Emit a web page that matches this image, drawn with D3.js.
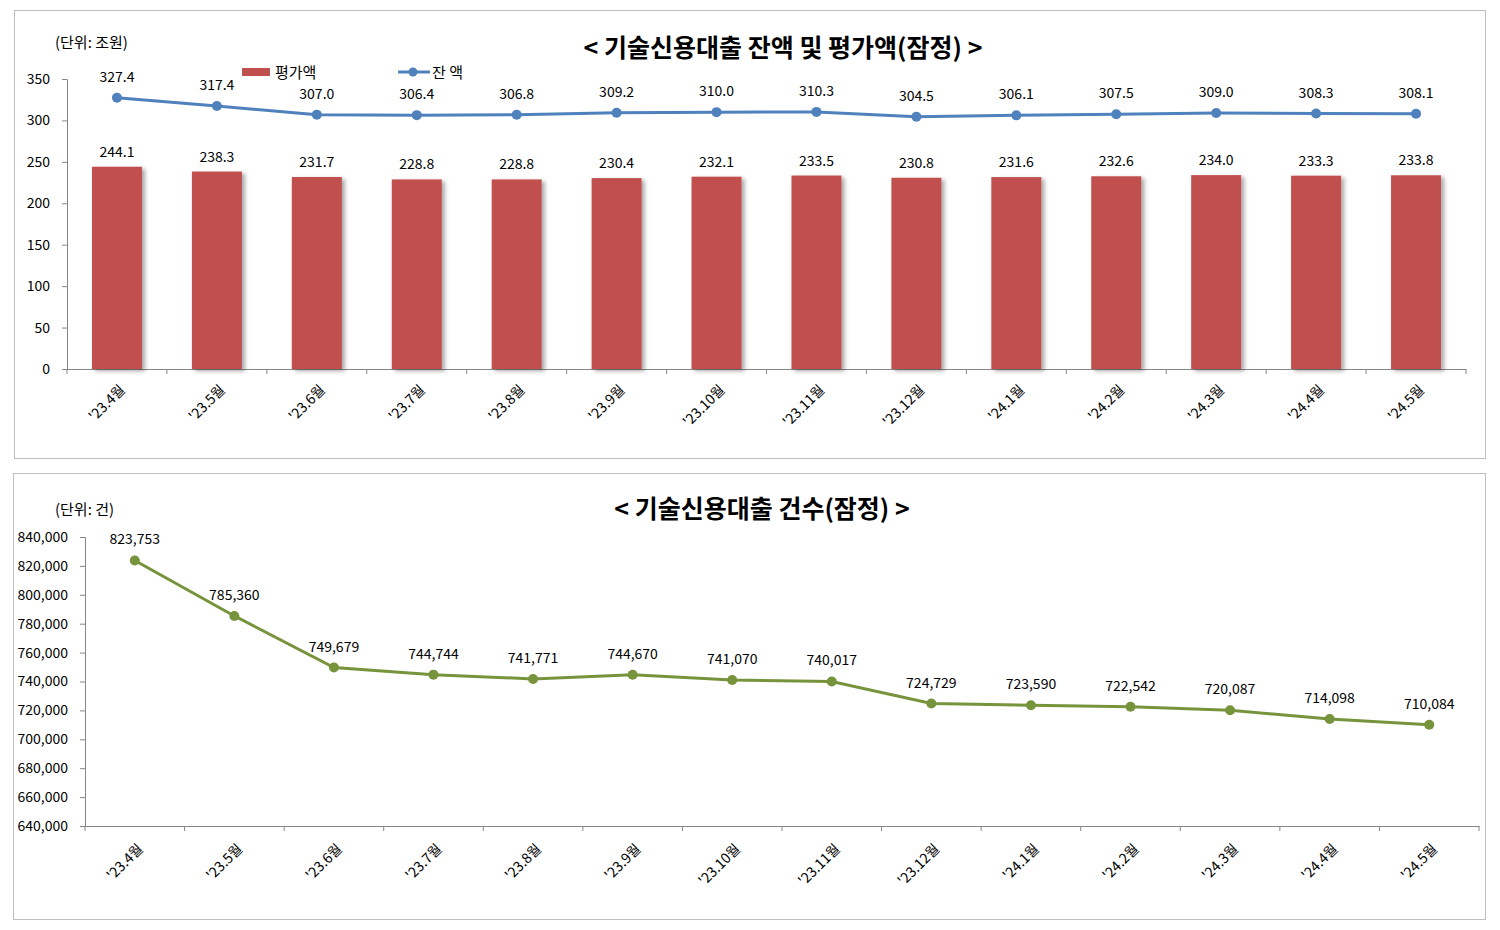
<!DOCTYPE html>
<html><head><meta charset="utf-8">
<script src="https://cdn.jsdelivr.net/npm/d3@7"></script>
<style>
body{margin:0;background:#fff;}
text{font-family:"Noto Sans CJK KR","Noto Sans",sans-serif;fill:#000;}
</style></head>
<body>
<svg id="c" width="1500" height="930"></svg>
<script>
const months = ["'23.4월","'23.5월","'23.6월","'23.7월","'23.8월","'23.9월","'23.10월","'23.11월","'23.12월","'24.1월","'24.2월","'24.3월","'24.4월","'24.5월"];
const evalAmount = [244.1,238.3,231.7,228.8,228.8,230.4,232.1,233.5,230.8,231.6,232.6,234.0,233.3,233.8];
const balance = [327.4,317.4,307.0,306.4,306.8,309.2,310.0,310.3,304.5,306.1,307.5,309.0,308.3,308.1];
const counts = [823753,785360,749679,744744,741771,744670,741070,740017,724729,723590,722542,720087,714098,710084];
const topTicks = [0,50,100,150,200,250,300,350];
const bottomTicks = [640000,660000,680000,700000,720000,740000,760000,780000,800000,820000,840000];

const svg = d3.select("#c");
const defs = svg.append("defs");
const f = defs.append("filter").attr("id","sh").attr("x","-20%").attr("y","-20%").attr("width","160%").attr("height","140%");
f.append("feDropShadow").attr("dx",3).attr("dy",2).attr("stdDeviation",2).attr("flood-color","#000").attr("flood-opacity",0.35);

// panels
svg.append("rect").attr("x",14.5).attr("y",10.5).attr("width",1471).attr("height",448).attr("fill","#fff").attr("stroke","#BFBFBF");
svg.append("rect").attr("x",13.5).attr("y",473.5).attr("width",1472).attr("height",446).attr("fill","#fff").attr("stroke","#BFBFBF");

const axisColor = "#868686";
const NUM = "14px";
function styleAxis(g){
  g.selectAll("path").attr("stroke",axisColor);
  g.selectAll("line").attr("stroke",axisColor);
  g.selectAll("text").style("font-size",NUM).attr("fill","#000");
}

// ---------- TOP CHART ----------
const x1 = d3.scaleBand().domain(months).range([67,1466]);
const y1 = d3.scaleLinear().domain([0,350]).range([369,79]);

svg.append("text").attr("x",783).attr("y",57).attr("text-anchor","middle")
  .style("font-size","25px").style("font-weight","bold").text("< 기술신용대출 잔액 및 평가액(잠정) >");
svg.append("text").attr("x",55).attr("y",48).style("font-size","15px").text("(단위: 조원)");

const ya1 = svg.append("g").attr("transform","translate(67,0)")
  .call(d3.axisLeft(y1).tickValues(topTicks).tickSize(5).tickPadding(12).tickFormat(d3.format("d")));
styleAxis(ya1);

const xa1 = svg.append("g").attr("transform","translate(0,369)")
  .call(d3.axisBottom(x1).tickSize(0).tickFormat(""));
styleAxis(xa1);
const bounds1 = months.map(m=>x1(m)).concat([x1.range()[1]]);
svg.append("g").selectAll("line").data(bounds1).join("line")
  .attr("x1",d=>d).attr("x2",d=>d).attr("y1",369).attr("y2",374).attr("stroke",axisColor);

svg.append("g").selectAll("text").data(months).join("text")
  .attr("transform",m=>`translate(${x1(m)+x1.bandwidth()/2+9},${391}) rotate(-45)`)
  .attr("text-anchor","end").style("font-size","14px").text(m=>m);

// bars
const bw = 50;
svg.append("g").selectAll("rect").data(evalAmount).join("rect")
  .attr("x",(d,i)=>x1(months[i])+x1.bandwidth()/2-bw/2)
  .attr("width",bw)
  .attr("y",d=>y1(d)).attr("height",d=>y1(0)-y1(d))
  .attr("fill","#C0504D").attr("filter","url(#sh)");
svg.append("g").selectAll("text").data(evalAmount).join("text")
  .attr("x",(d,i)=>x1(months[i])+x1.bandwidth()/2)
  .attr("y",d=>y1(d)-10).attr("text-anchor","middle").style("font-size",NUM)
  .text(d=>d.toFixed(1));

// line
const line1 = d3.line().x((d,i)=>x1(months[i])+x1.bandwidth()/2).y(d=>y1(d));
svg.append("path").datum(balance).attr("d",line1).attr("fill","none").attr("stroke","#4F81BD").attr("stroke-width",3);
svg.append("g").selectAll("circle").data(balance).join("circle")
  .attr("cx",(d,i)=>x1(months[i])+x1.bandwidth()/2).attr("cy",d=>y1(d)).attr("r",5).attr("fill","#4F81BD");
svg.append("g").selectAll("text").data(balance).join("text")
  .attr("x",(d,i)=>x1(months[i])+x1.bandwidth()/2)
  .attr("y",d=>y1(d)-16).attr("text-anchor","middle").style("font-size",NUM)
  .text(d=>d.toFixed(1));

// legend
svg.append("rect").attr("x",242).attr("y",68).attr("width",28).attr("height",8).attr("fill","#C0504D");
svg.append("text").attr("x",275).attr("y",78).style("font-size","15px").text("평가액");
svg.append("line").attr("x1",398).attr("x2",430).attr("y1",72).attr("y2",72).attr("stroke","#4F81BD").attr("stroke-width",3);
svg.append("circle").attr("cx",413).attr("cy",72).attr("r",4.5).attr("fill","#4F81BD");
svg.append("text").attr("x",432).attr("y",78).style("font-size","15px").text("잔 액");

// ---------- BOTTOM CHART ----------
const x2 = d3.scaleBand().domain(months).range([85,1479]);
const y2 = d3.scaleLinear().domain([640000,840000]).range([826,537]);

svg.append("text").attr("x",762).attr("y",518).attr("text-anchor","middle")
  .style("font-size","25px").style("font-weight","bold").text("< 기술신용대출 건수(잠정) >");
svg.append("text").attr("x",55).attr("y",515).style("font-size","15px").text("(단위: 건)");

const ya2 = svg.append("g").attr("transform","translate(85,0)")
  .call(d3.axisLeft(y2).tickValues(bottomTicks).tickSize(5).tickPadding(12).tickFormat(d3.format(",")));
styleAxis(ya2);

const xa2 = svg.append("g").attr("transform","translate(0,826)")
  .call(d3.axisBottom(x2).tickSize(0).tickFormat(""));
styleAxis(xa2);
const bounds2 = months.map(m=>x2(m)).concat([x2.range()[1]]);
svg.append("g").selectAll("line").data(bounds2).join("line")
  .attr("x1",d=>d).attr("x2",d=>d).attr("y1",826).attr("y2",831).attr("stroke",axisColor);

svg.append("g").selectAll("text").data(months).join("text")
  .attr("transform",m=>`translate(${x2(m)+x2.bandwidth()/2+9},${850}) rotate(-45)`)
  .attr("text-anchor","end").style("font-size","14px").text(m=>m);

const line2 = d3.line().x((d,i)=>x2(months[i])+x2.bandwidth()/2).y(d=>y2(d));
svg.append("path").datum(counts).attr("d",line2).attr("fill","none").attr("stroke","#77933C").attr("stroke-width",3);
svg.append("g").selectAll("circle").data(counts).join("circle")
  .attr("cx",(d,i)=>x2(months[i])+x2.bandwidth()/2).attr("cy",d=>y2(d)).attr("r",5).attr("fill","#77933C");
svg.append("g").selectAll("text").data(counts).join("text")
  .attr("x",(d,i)=>x2(months[i])+x2.bandwidth()/2)
  .attr("y",d=>y2(d)-16).attr("text-anchor","middle").style("font-size",NUM)
  .text(d=>d3.format(",")(d));
</script>
</body></html>
